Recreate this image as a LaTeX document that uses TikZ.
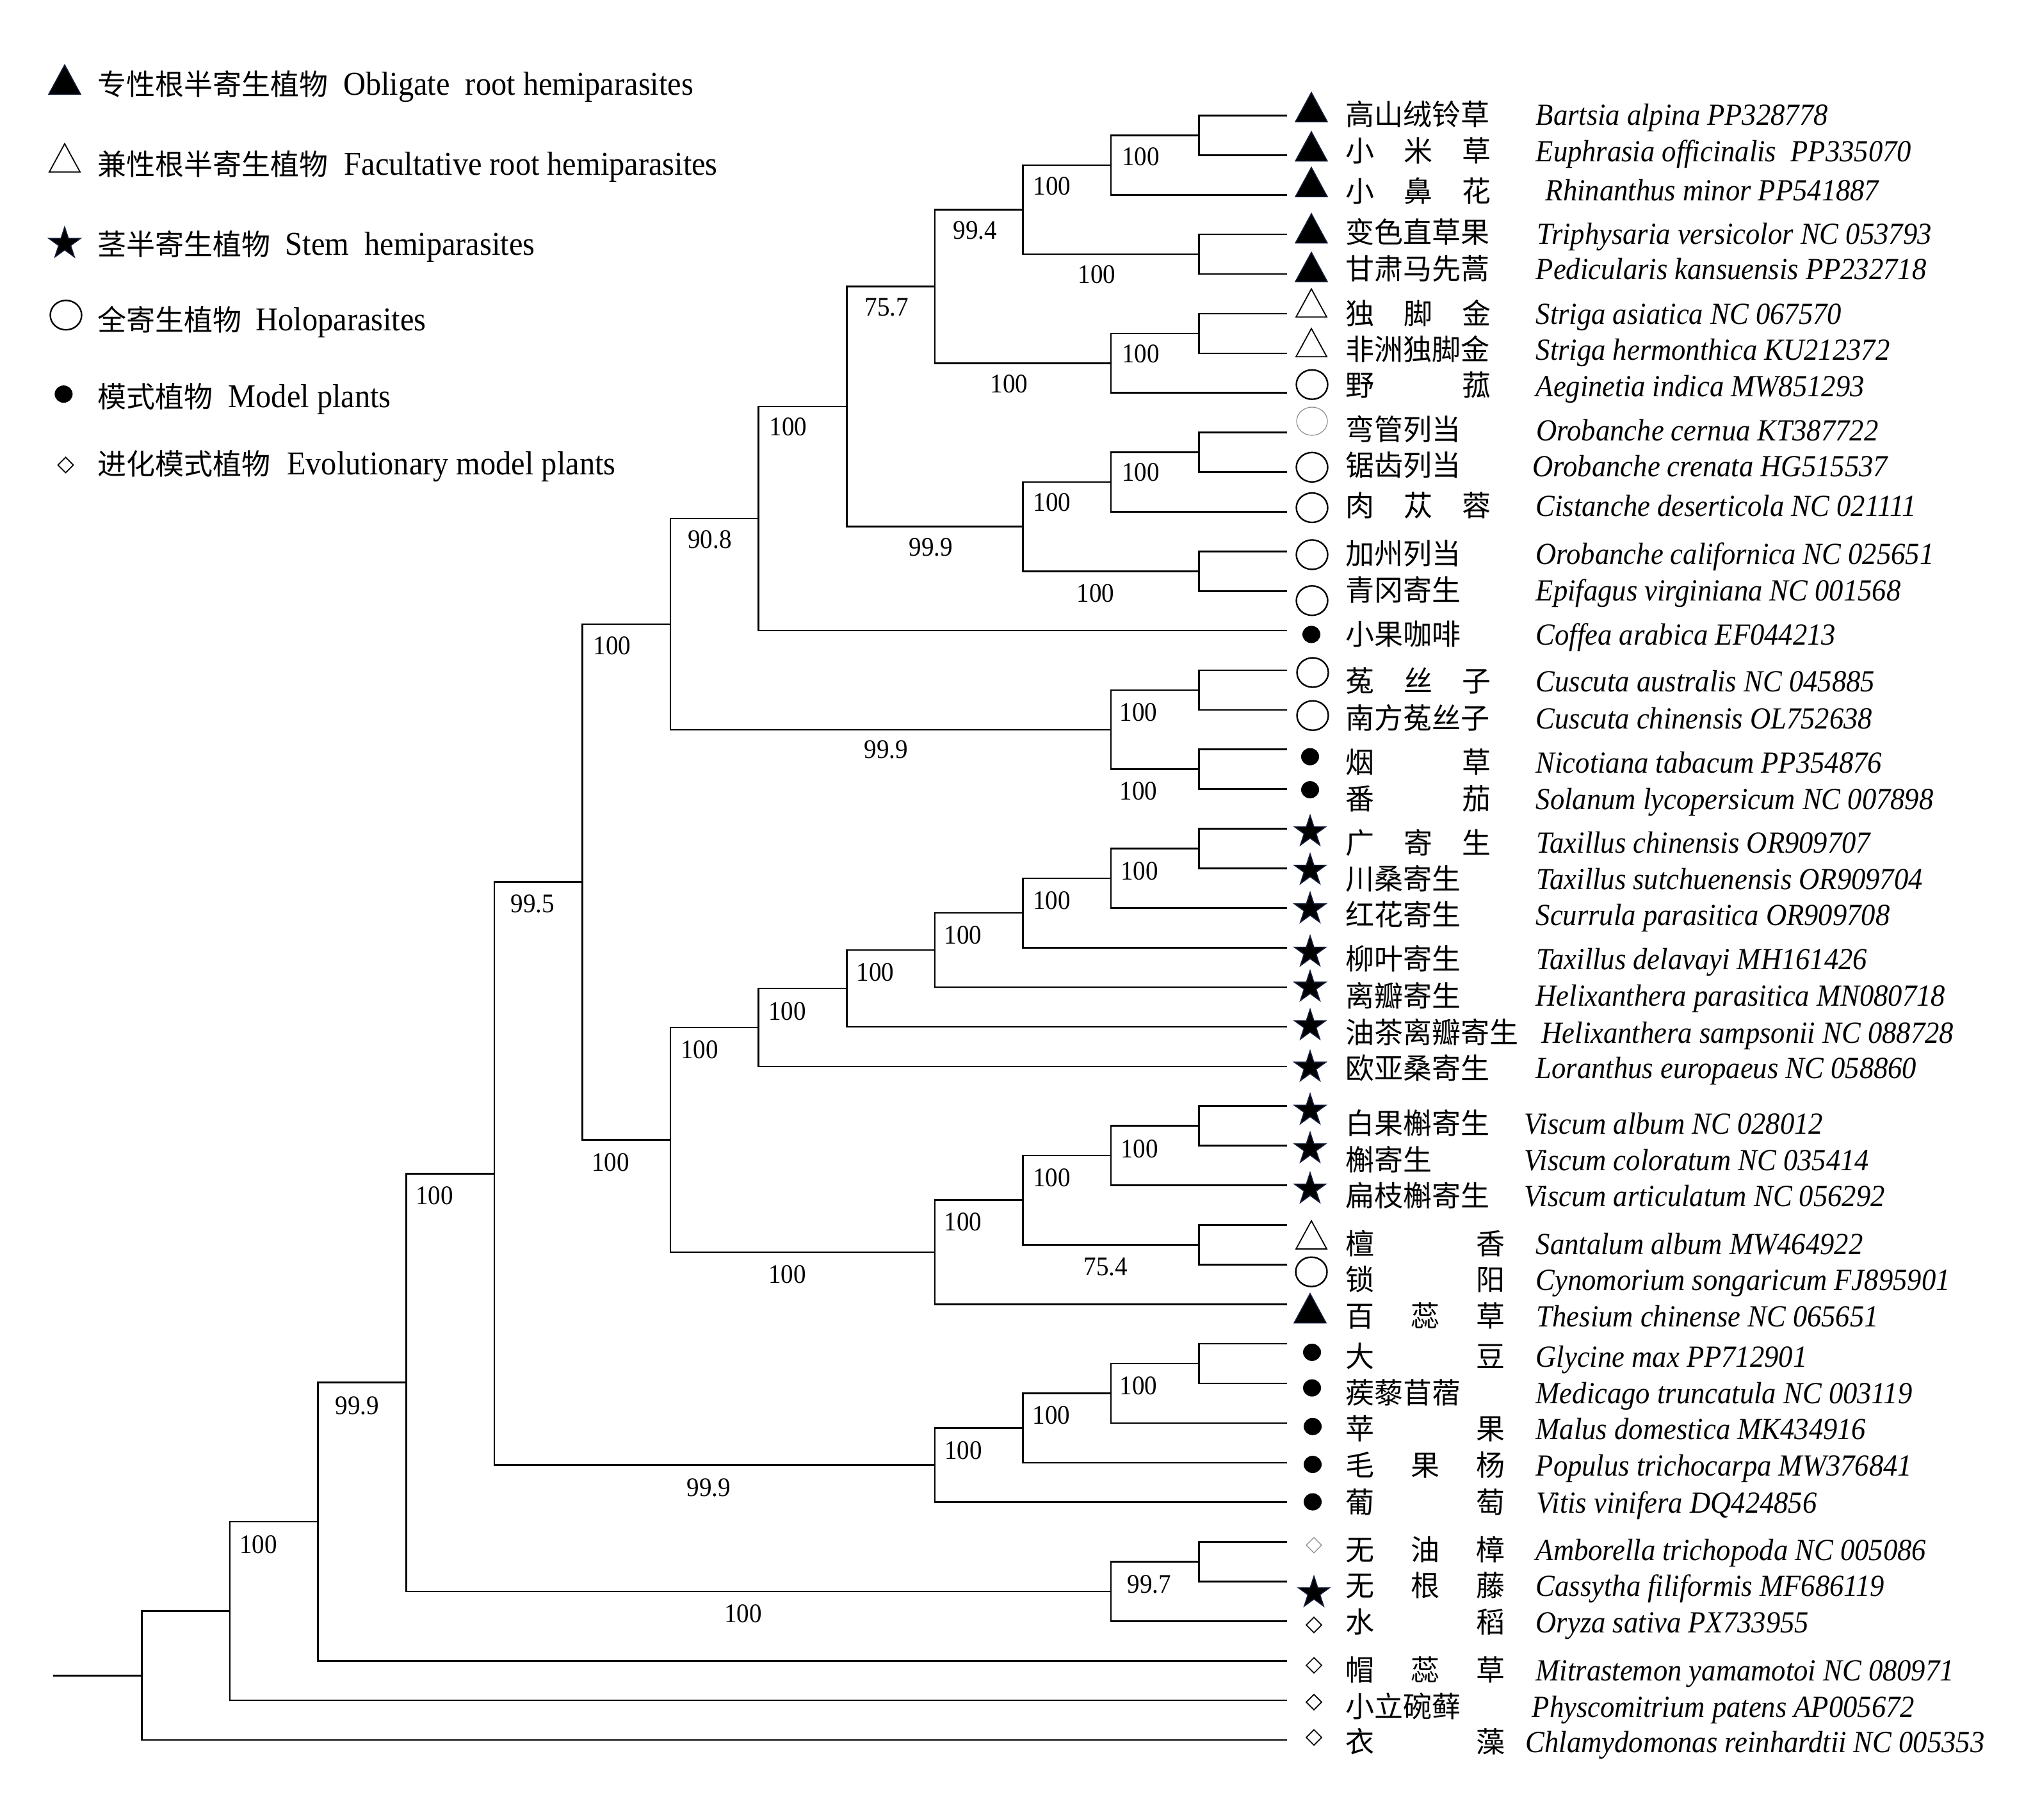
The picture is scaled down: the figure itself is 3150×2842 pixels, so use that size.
\documentclass[tikz,border=0pt]{standalone}
\usepackage{fontspec}
\setmainfont{Liberation Serif}
\newfontfamily\cjk{Noto Sans CJK SC}
\newfontfamily\lat[FakeStretch=0.93]{Liberation Serif}
\definecolor{navyedge}{RGB}{22,32,64}
\newcommand\cnsprA[1]{\hbox to 22.7mm{#1}}
\newcommand\cnsprB[1]{\hbox to 24.9mm{#1}}
\tikzset{
  branch/.style={line width=0.26mm, line join=miter},
  cn/.style={anchor=base west, inner sep=0pt, font=\cjk\fontsize{12.8pt}{14pt}\selectfont},
  la/.style={anchor=base west, inner sep=0pt, font=\lat\itshape\fontsize{13.65pt}{15pt}\selectfont},
  bs/.style={inner sep=0pt, font=\lat\fontsize{11.95pt}{13pt}\selectfont},
  lgla/.style={anchor=base west, inner sep=0pt, font=\lat\fontsize{14.8pt}{16pt}\selectfont},
  ftri/.pic={\filldraw[fill=black,draw=navyedge,line width=0.15mm] (-25,23) -- (0,-23) -- (25,23) -- cycle;},
  otri/.pic={\draw[line width=0.18mm] (-24,22) -- (0,-22) -- (24,22) -- cycle;},
  ocirc/.pic={\draw[line width=0.24mm] (0,0) ellipse (24.5 and 23);},
  gcirc/.pic={\draw[line width=0.12mm,black!45] (0,0) ellipse (24 and 22);},
  fdot/.pic={\fill (0,0) ellipse (14 and 13.5);},
  odiam/.pic={\draw[line width=0.17mm] (-12,0) -- (0,-12) -- (12,0) -- (0,12) -- cycle;},
  gdiam/.pic={\draw[line width=0.12mm,black!45] (-12,0) -- (0,-12) -- (12,0) -- (0,12) -- cycle;},
  fstar/.pic={\filldraw[fill=black,draw=navyedge,line width=0.15mm,shift={(0,2.5)}]
      (-90:26) -- (-54:9.93) -- (-18:26) -- (18:9.93) -- (54:26) -- (90:9.93)
      -- (126:26) -- (162:9.93) -- (198:26) -- (234:9.93) -- cycle;}
}
\begin{document}
\begin{tikzpicture}[x=0.1mm,y=-0.1mm]
\useasboundingbox (0,0) rectangle (3150,2842);

% ---------------- legend ----------------
\pic (lgm1) at (101,124.3) {ftri};
\node[cn] (lgc1) at (151.5,148.5) {专性根半寄生植物};
\node[lgla] (lgl1) at (535.5,148.5) {Obligate\ \ root hemiparasites};
\pic (lgm2) at (101,246.6) {otri};
\node[cn] (lgc2) at (151.5,273) {兼性根半寄生植物};
\node[lgla] (lgl2) at (537,273) {Facultative root hemiparasites};
\pic (lgm3) at (101,378) {fstar};
\node[cn] (lgc3) at (151.5,398.5) {茎半寄生植物};
\node[lgla] (lgl3) at (445,398.5) {Stem\ \ hemiparasites};
\pic (lgm4) at (103,492.2) {ocirc};
\node[cn] (lgc4) at (151.5,516) {全寄生植物};
\node[lgla] (lgl4) at (399,516) {Holoparasites};
\pic (lgm5) at (99.4,615.6) {fdot};
\node[cn] (lgc5) at (151.5,636.5) {模式植物};
\node[lgla] (lgl5) at (356,636.5) {Model plants};
\pic (lgm6) at (102.5,726.3) {odiam};
\node[cn] (lgc6) at (151.5,741.5) {进化模式植物};
\node[lgla] (lgl6) at (447.5,741.5) {Evolutionary model plants};

% ---------------- tree coordinates ----------------
\foreach \i in {1,...,42} \coordinate (l\i) at (2010.3,{180.5+(\i-1)*61.89});
\coordinate (A)  at (1872.7,211.45);
\coordinate (B)  at (1735.1,257.9);
\coordinate (C)  at (1872.7,397.15);
\coordinate (D)  at (1597.5,327.5);
\coordinate (E)  at (1872.7,520.9);
\coordinate (F)  at (1735.1,567.3);
\coordinate (G)  at (1459.9,447.4);
\coordinate (H)  at (1872.7,706.55);
\coordinate (I)  at (1735.1,753.0);
\coordinate (J)  at (1872.7,892.25);
\coordinate (K)  at (1597.5,822.6);
\coordinate (L)  at (1322.3,635.0);
\coordinate (M)  at (1184.7,810.05);
\coordinate (Oa) at (1872.7,1077.95);
\coordinate (Ob) at (1872.7,1201.65);
\coordinate (O)  at (1735.1,1139.8);
\coordinate (N)  at (1047.1,974.9);
\coordinate (La) at (1872.7,1325.45);
\coordinate (Lb) at (1735.1,1371.9);
\coordinate (Lc) at (1597.5,1426.05);
\coordinate (Ld) at (1459.9,1484.1);
\coordinate (Le) at (1322.3,1544.05);
\coordinate (Lf) at (1184.7,1604.95);
\coordinate (Va) at (1872.7,1758.75);
\coordinate (Vb) at (1735.1,1805.1);
\coordinate (Sa) at (1872.7,1944.35);
\coordinate (Q)  at (1597.5,1874.7);
\coordinate (R)  at (1459.9,1955.95);
\coordinate (S)  at (1047.1,1780.45);
\coordinate (P)  at (909.5,1377.7);
\coordinate (Ra) at (1872.7,2130.05);
\coordinate (Rb) at (1735.1,2176.5);
\coordinate (Rc) at (1597.5,2230.65);
\coordinate (Rd) at (1459.9,2288.7);
\coordinate (T)  at (771.9,1833.2);
\coordinate (Aa) at (1872.7,2439.55);
\coordinate (Ab) at (1735.1,2485.95);
\coordinate (U)  at (634.3,2159.6);
\coordinate (Vn) at (496.7,2376.9);
\coordinate (W)  at (359.1,2516.5);
\coordinate (Rt) at (221.5,2617.25);
\coordinate (st) at (83,2617.25);

\foreach \p/\c in {A/l1,A/l2,B/A,B/l3,C/l4,C/l5,D/B,D/C,E/l6,E/l7,F/E,F/l8,G/D,G/F,
  H/l9,H/l10,I/H,I/l11,J/l12,J/l13,K/I,K/J,L/G,L/K,M/L,M/l14,Oa/l15,Oa/l16,Ob/l17,Ob/l18,
  O/Oa,O/Ob,N/M,N/O,La/l19,La/l20,Lb/La,Lb/l21,Lc/Lb,Lc/l22,Ld/Lc,Ld/l23,Le/Ld,Le/l24,
  Lf/Le,Lf/l25,Va/l26,Va/l27,Vb/Va,Vb/l28,Sa/l29,Sa/l30,Q/Vb,Q/Sa,R/Q,R/l31,S/Lf,S/R,
  P/N,P/S,Ra/l32,Ra/l33,Rb/Ra,Rb/l34,Rc/Rb,Rc/l35,Rd/Rc,Rd/l36,T/P,T/Rd,Aa/l37,Aa/l38,
  Ab/Aa,Ab/l39,U/T,U/Ab,Vn/U,Vn/l40,W/Vn,W/l41,Rt/W,Rt/l42}
  \draw[branch] (\p) |- (\c);
\draw[branch] (st) -- (Rt);

% ---------------- support values ----------------
\node[bs] (b1)  at (1781.5,244.8) {100};
\node[bs] (b2)  at (1643,290.7) {100};
\node[bs] (b3)  at (1523,359.6) {99.4};
\node[bs] (b4)  at (1713,428.5) {100};
\node[bs] (b5)  at (1781.5,553) {100};
\node[bs] (b6)  at (1384.7,480) {75.7};
\node[bs] (b7)  at (1576,599.5) {100};
\node[bs] (b8)  at (1231,666.7) {100};
\node[bs] (b9)  at (1781.5,737.3) {100};
\node[bs] (b10) at (1643,784.4) {100};
\node[bs] (b11) at (1454,854.4) {99.9};
\node[bs] (b12) at (1711,926.7) {100};
\node[bs] (b13) at (1108.5,843) {90.8};
\node[bs] (b14) at (956,1008.5) {100};
\node[bs] (b15) at (1384,1171) {99.9};
\node[bs] (b16) at (1778,1113) {100};
\node[bs] (b17) at (1778,1235.5) {100};
\node[bs] (b18) at (831.7,1412) {99.5};
\node[bs] (b19) at (1779.6,1360.6) {100};
\node[bs] (b20) at (1642.5,1407) {100};
\node[bs] (b21) at (1504,1460.5) {100};
\node[bs] (b22) at (1367,1518.8) {100};
\node[bs] (b23) at (1229.7,1579.4) {100};
\node[bs] (b24) at (1092.5,1640) {100};
\node[bs] (b25) at (953.6,1816) {100};
\node[bs] (b26) at (1779.6,1794.3) {100};
\node[bs] (b27) at (1642.5,1840) {100};
\node[bs] (b28) at (1504,1909) {100};
\node[bs] (b29) at (1727,1979.4) {75.4};
\node[bs] (b30) at (1229.7,1990.6) {100};
\node[bs] (b31) at (1778,2164.9) {100};
\node[bs] (b32) at (1641.8,2210.8) {100};
\node[bs] (b33) at (1504.6,2265.6) {100};
\node[bs] (b34) at (1794.7,2475) {99.7};
\node[bs] (b35) at (1107,2324) {99.9};
\node[bs] (b36) at (678.6,1868) {100};
\node[bs] (b37) at (1160.7,2521) {100};
\node[bs] (b38) at (558,2195.6) {99.9};
\node[bs] (b39) at (403.6,2412.5) {100};

% ---------------- markers ----------------
\pic (m1)  at (2048,167.3) {ftri};
\pic (m2)  at (2048,228.7) {ftri};
\pic (m3)  at (2048,284.4) {ftri};
\pic (m4)  at (2048,356.7) {ftri};
\pic (m5)  at (2048,417) {ftri};
\pic (m6)  at (2048,473.3) {otri};
\pic (m7)  at (2048,535.2) {otri};
\pic (m8)  at (2049,600.7) {ocirc};
\pic (m9)  at (2049,658) {gcirc};
\pic (m10) at (2049,729.8) {ocirc};
\pic (m11) at (2049,793) {ocirc};
\pic (m12) at (2049,866.4) {ocirc};
\pic (m13) at (2049,938.2) {ocirc};
\pic (m14) at (2048,991) {fdot};
\pic (m15) at (2050,1050.5) {ocirc};
\pic (m16) at (2050,1117.7) {ocirc};
\pic (m17) at (2046,1182) {fdot};
\pic (m18) at (2046,1233.6) {fdot};
\pic (m19) at (2046,1296.8) {fstar};
\pic (m20) at (2046,1357) {fstar};
\pic (m21) at (2046,1417.3) {fstar};
\pic (m22) at (2046,1485) {fstar};
\pic (m23) at (2046,1539.6) {fstar};
\pic (m24) at (2046,1599.8) {fstar};
\pic (m25) at (2046,1664.7) {fstar};
\pic (m26) at (2046,1731.9) {fstar};
\pic (m27) at (2046,1792) {fstar};
\pic (m28) at (2046,1855) {fstar};
\pic (m29) at (2048,1929) {otri};
\pic (m30) at (2048,1986.7) {ocirc};
\pic (m31) at (2046,2043.5) {ftri};
\pic (m32) at (2049,2112.4) {fdot};
\pic (m33) at (2049,2168) {fdot};
\pic (m34) at (2050,2228.3) {fdot};
\pic (m35) at (2050,2287.5) {fdot};
\pic (m36) at (2050,2346) {fdot};
\pic (m37) at (2052,2413.7) {gdiam};
\pic (m38) at (2052,2485.5) {fstar};
\pic (m39) at (2052,2538.3) {odiam};
\pic (m40) at (2052,2601.4) {odiam};
\pic (m41) at (2052,2658.8) {odiam};
\pic (m42) at (2052,2714) {odiam};

% ---------------- Chinese names ----------------
\node[cn] (c1)  at (2101,195.3) {高山绒铃草};
\node[cn] (c2)  at (2101,252.5) {\cnsprA{小\hfill 米\hfill 草}};
\node[cn] (c3)  at (2101,315.5) {\cnsprA{小\hfill 鼻\hfill 花}};
\node[cn] (c4)  at (2101,379) {变色直草果};
\node[cn] (c5)  at (2101,436.4) {甘肃马先蒿};
\node[cn] (c6)  at (2101,506.5) {\cnsprA{独\hfill 脚\hfill 金}};
\node[cn] (c7)  at (2101,562.5) {非洲独脚金};
\node[cn] (c8)  at (2101,618.3) {\cnsprA{野\hfill 菰}};
\node[cn] (c9)  at (2101,687.2) {弯管列当};
\node[cn] (c10) at (2101,743.5) {锯齿列当};
\node[cn] (c11) at (2101,806.5) {\cnsprA{肉\hfill 苁\hfill 蓉}};
\node[cn] (c12) at (2101,881.2) {加州列当};
\node[cn] (c13) at (2101,938.5) {青冈寄生};
\node[cn] (c14) at (2101,1007.5) {小果咖啡};
\node[cn] (c15) at (2101,1080.8) {\cnsprA{菟\hfill 丝\hfill 子}};
\node[cn] (c16) at (2101,1138.2) {南方菟丝子};
\node[cn] (c17) at (2101,1207.5) {\cnsprA{烟\hfill 草}};
\node[cn] (c18) at (2101,1264.5) {\cnsprA{番\hfill 茄}};
\node[cn] (c19) at (2101,1333.3) {\cnsprA{广\hfill 寄\hfill 生}};
\node[cn] (c20) at (2101,1389.5) {川桑寄生};
\node[cn] (c21) at (2101,1445.5) {红花寄生};
\node[cn] (c22) at (2101,1514.5) {柳叶寄生};
\node[cn] (c23) at (2101,1572.1) {离瓣寄生};
\node[cn] (c24) at (2101,1629.5) {油茶离瓣寄生};
\node[cn] (c25) at (2101,1685.2) {欧亚桑寄生};
\node[cn] (c26) at (2101,1771.3) {白果槲寄生};
\node[cn] (c27) at (2101,1828.5) {槲寄生};
\node[cn] (c28) at (2101,1884.5) {扁枝槲寄生};
\node[cn] (c29) at (2101,1959.5) {\cnsprB{檀\hfill 香}};
\node[cn] (c30) at (2101,2015.2) {\cnsprB{锁\hfill 阳}};
\node[cn] (c31) at (2101,2072.5) {\cnsprB{百\hfill 蕊\hfill 草}};
\node[cn] (c32) at (2101,2135.5) {\cnsprB{大\hfill 豆}};
\node[cn] (c33) at (2101,2192) {蒺藜苜蓿};
\node[cn] (c34) at (2101,2248.3) {\cnsprB{苹\hfill 果}};
\node[cn] (c35) at (2101,2305.5) {\cnsprB{毛\hfill 果\hfill 杨}};
\node[cn] (c36) at (2101,2363.1) {\cnsprB{葡\hfill 萄}};
\node[cn] (c37) at (2101,2437.5) {\cnsprB{无\hfill 油\hfill 樟}};
\node[cn] (c38) at (2101,2493.5) {\cnsprB{无\hfill 根\hfill 藤}};
\node[cn] (c39) at (2101,2550.5) {\cnsprB{水\hfill 稻}};
\node[cn] (c40) at (2101,2625.5) {\cnsprB{帽\hfill 蕊\hfill 草}};
\node[cn] (c41) at (2101,2682.5) {小立碗藓};
\node[cn] (c42) at (2101,2737.3) {\cnsprB{衣\hfill 藻}};

% ---------------- Latin names ----------------
\node[la] (s1)  at (2398,195.3) {Bartsia alpina PP328778};
\node[la] (s2)  at (2398,252.5) {Euphrasia officinalis\ \ PP335070};
\node[la] (s3)  at (2413,313.5) {Rhinanthus minor PP541887};
\node[la] (s4)  at (2400,381.5) {Triphysaria versicolor NC 053793};
\node[la] (s5)  at (2398,436.5) {Pedicularis\ kansuensis PP232718};
\node[la] (s6)  at (2398,506.5) {Striga asiatica NC 067570};
\node[la] (s7)  at (2398,562.5) {Striga hermonthica KU212372};
\node[la] (s8)  at (2398,619.5) {Aeginetia indica MW851293};
\node[la] (s9)  at (2399,688.5) {Orobanche cernua KT387722};
\node[la] (s10) at (2393,744.5) {Orobanche crenata HG515537};
\node[la] (s11) at (2398,806.5) {Cistanche deserticola NC 021111};
\node[la] (s12) at (2398,881.2) {Orobanche californica NC 025651};
\node[la] (s13) at (2398,938.5) {Epifagus virginiana NC 001568};
\node[la] (s14) at (2398,1007.5) {Coffea arabica EF044213};
\node[la] (s15) at (2398,1080.5) {Cuscuta australis NC 045885};
\node[la] (s16) at (2398,1138.5) {Cuscuta chinensis OL752638};
\node[la] (s17) at (2398,1207.5) {Nicotiana tabacum PP354876};
\node[la] (s18) at (2398,1264.5) {Solanum lycopersicum NC 007898};
\node[la] (s19) at (2399,1332.5) {Taxillus chinensis OR909707};
\node[la] (s20) at (2399,1389.5) {Taxillus sutchuenensis OR909704};
\node[la] (s21) at (2398,1445.5) {Scurrula parasitica OR909708};
\node[la] (s22) at (2399,1514.5) {Taxillus delavayi MH161426};
\node[la] (s23) at (2398,1571.5) {Helixanthera parasitica MN080718};
\node[la] (s24) at (2407,1629.5) {Helixanthera sampsonii NC 088728};
\node[la] (s25) at (2398,1684.5) {Loranthus europaeus NC 058860};
\node[la] (s26) at (2380,1771.5) {Viscum album NC 028012};
\node[la] (s27) at (2380,1828.5) {Viscum coloratum NC 035414};
\node[la] (s28) at (2380,1884.5) {Viscum articulatum NC 056292};
\node[la] (s29) at (2398,1959.5) {Santalum album MW464922};
\node[la] (s30) at (2398,2015.5) {Cynomorium songaricum FJ895901};
\node[la] (s31) at (2399,2072.5) {Thesium chinense NC 065651};
\node[la] (s32) at (2398,2135.5) {Glycine max PP712901};
\node[la] (s33) at (2398,2192) {Medicago truncatula NC 003119};
\node[la] (s34) at (2398,2248.3) {Malus domestica MK434916};
\node[la] (s35) at (2398,2305.5) {Populus trichocarpa MW376841};
\node[la] (s36) at (2399,2363.1) {Vitis vinifera DQ424856};
\node[la] (s37) at (2398,2437.5) {Amborella trichopoda NC 005086};
\node[la] (s38) at (2398,2493.5) {Cassytha filiformis MF686119};
\node[la] (s39) at (2398,2550.5) {Oryza sativa PX733955};
\node[la] (s40) at (2398,2625.5) {Mitrastemon yamamotoi NC 080971};
\node[la] (s41) at (2392,2682.5) {Physcomitrium patens AP005672};
\node[la] (s42) at (2382,2737.3) {Chlamydomonas reinhardtii NC 005353};
\end{tikzpicture}
\end{document}
